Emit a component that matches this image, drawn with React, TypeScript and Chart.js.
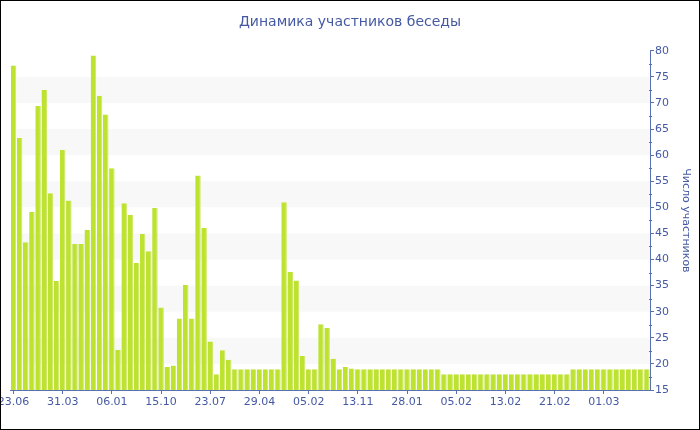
import React, { useEffect, useRef } from 'react';
import { Chart, registerables } from 'chart.js';

Chart.register(...registerables);

const chartTitle = 'Динамика участников беседы';
const axisTitle = 'Число участников';
const tickLabels = ['23.06', '31.03', '06.01', '15.10', '23.07', '29.04', '05.02', '13.11', '28.01', '05.02', '13.02', '21.02', '01.03'];
const labelEvery = 8;
const participants = [
  77.2, 63.3, 43.3, 49.1, 69.4, 72.5, 52.7, 35.9, 61.0, 51.3, 43.0, 43.0, 45.7, 79.1, 71.4, 67.8,
  57.5, 22.7, 50.8, 48.6, 39.4, 44.9, 41.6, 49.9, 30.8, 19.4, 19.7, 28.7, 35.1, 28.7, 56.1, 46.1,
  24.3, 18.0, 22.6, 20.8, 19, 19, 19, 19, 19, 19, 19, 19, 51.0, 37.6, 36.0, 21.5,
  19, 19, 27.6, 26.9, 21.0, 19, 19.4, 19.1, 19, 19, 19, 19, 19, 19, 19, 19,
  19, 19, 19, 19, 19, 19, 18, 18, 18, 18, 18, 18, 18, 18, 18, 18, 18, 18,
  18, 18, 18, 18, 18, 18, 18, 18, 18, 19, 19, 19, 19, 19, 19, 19, 19, 19,
  19, 19, 19, 19,
];
const yMin = 15;
const yMax = 80;
const yStep = 5;

const textColor = '#4559a3';
const axisColor = '#5b6fb3';
const barColor = '#bde22f';
const barEdge = '#cde865';
const bandColor = '#f8f8f8';

const bandsPlugin = {
  id: 'bands',
  beforeDatasetsDraw(chart: any) {
    const { ctx, chartArea } = chart;
    const y = chart.scales.y;
    const x = chart.scales.x;
    const left = (x.getPixelForValue(0) + x.getPixelForValue(1)) / 2;
    ctx.save();
    ctx.fillStyle = bandColor;
    for (let v = y.min + yStep; v + yStep < y.max; v += yStep * 2) {
      const top = y.getPixelForValue(v + yStep);
      const bottom = y.getPixelForValue(v);
      ctx.fillRect(left, top, chartArea.right - left, bottom - top);
    }
    ctx.restore();
  },
};

const minorTicksPlugin = {
  id: 'minorTicks',
  afterDraw(chart: any) {
    const { ctx } = chart;
    const y = chart.scales.y;
    ctx.save();
    ctx.strokeStyle = axisColor;
    ctx.lineWidth = 1;
    for (let v = y.min + yStep / 2; v < y.max; v += yStep) {
      const py = Math.round(y.getPixelForValue(v)) + 0.5;
      ctx.beginPath();
      ctx.moveTo(y.left - 1, py);
      ctx.lineTo(y.left + 2, py);
      ctx.stroke();
    }
    ctx.restore();
  },
};

export default function App() {
  const ref = useRef<HTMLCanvasElement | null>(null);

  useEffect(() => {
    document.body.style.margin = '0';
    const canvas = ref.current;
    if (!canvas) return;
    Chart.defaults.font.family = '"DejaVu Sans", Verdana, sans-serif';
    const categories = participants.map((_, i) => (i % labelEvery === 0 ? tickLabels[i / labelEvery] : ''));
    const chart = new Chart(canvas, {
      type: 'bar',
      data: {
        labels: categories,
        datasets: [
          {
            data: participants,
            backgroundColor: barColor,
            borderColor: barEdge,
            borderWidth: { top: 0, left: 0, bottom: 0, right: 1 },
            borderSkipped: false,
            categoryPercentage: 1,
            barPercentage: 0.9,
          },
        ],
      },
      options: {
        responsive: false,
        animation: false,
        layout: { padding: 0 },
        plugins: {
          legend: { display: false },
          tooltip: { enabled: false },
          title: {
            display: true,
            text: chartTitle,
            color: textColor,
            font: { size: 14, weight: 'normal' },
            padding: { top: 13, bottom: 20 },
          },
        },
        scales: {
          x: {
            offset: true,
            grid: {
              display: true,
              drawOnChartArea: false,
              drawTicks: true,
              tickLength: 4,
              offset: false,
              tickColor: (c: any) => (c.index % labelEvery === 0 ? axisColor : 'rgba(0,0,0,0)'),
            },
            border: { display: true, color: axisColor },
            ticks: {
              autoSkip: false,
              maxRotation: 0,
              minRotation: 0,
              padding: 2,
              color: textColor,
              font: { size: 11 },
              callback: (_v: any, i: number) => categories[i],
            },
            afterFit: (s: any) => {
              s.paddingLeft = 9.4;
              s.paddingRight = 0;
              s.height = 39;
            },
          },
          y: {
            position: 'right',
            min: yMin,
            max: yMax,
            grid: {
              display: true,
              drawOnChartArea: false,
              drawTicks: true,
              tickLength: 4,
              color: axisColor,
            },
            border: { display: true, color: axisColor },
            ticks: {
              stepSize: yStep,
              padding: 1,
              color: textColor,
              font: { size: 11 },
            },
            title: {
              display: true,
              text: axisTitle,
              color: textColor,
              font: { size: 11 },
              padding: { top: 7, bottom: 4 },
            },
            afterFit: (s: any) => {
              s.width = 49;
            },
          },
        },
      },
      plugins: [bandsPlugin, minorTicksPlugin],
    });
    return () => chart.destroy();
  }, []);

  return (
    <div style={{ width: 700, height: 430, border: '1px solid #000', boxSizing: 'border-box', background: '#fff' }}>
      <canvas ref={ref} width={698} height={428} style={{ display: 'block', width: 698, height: 428 }} />
    </div>
  );
}
